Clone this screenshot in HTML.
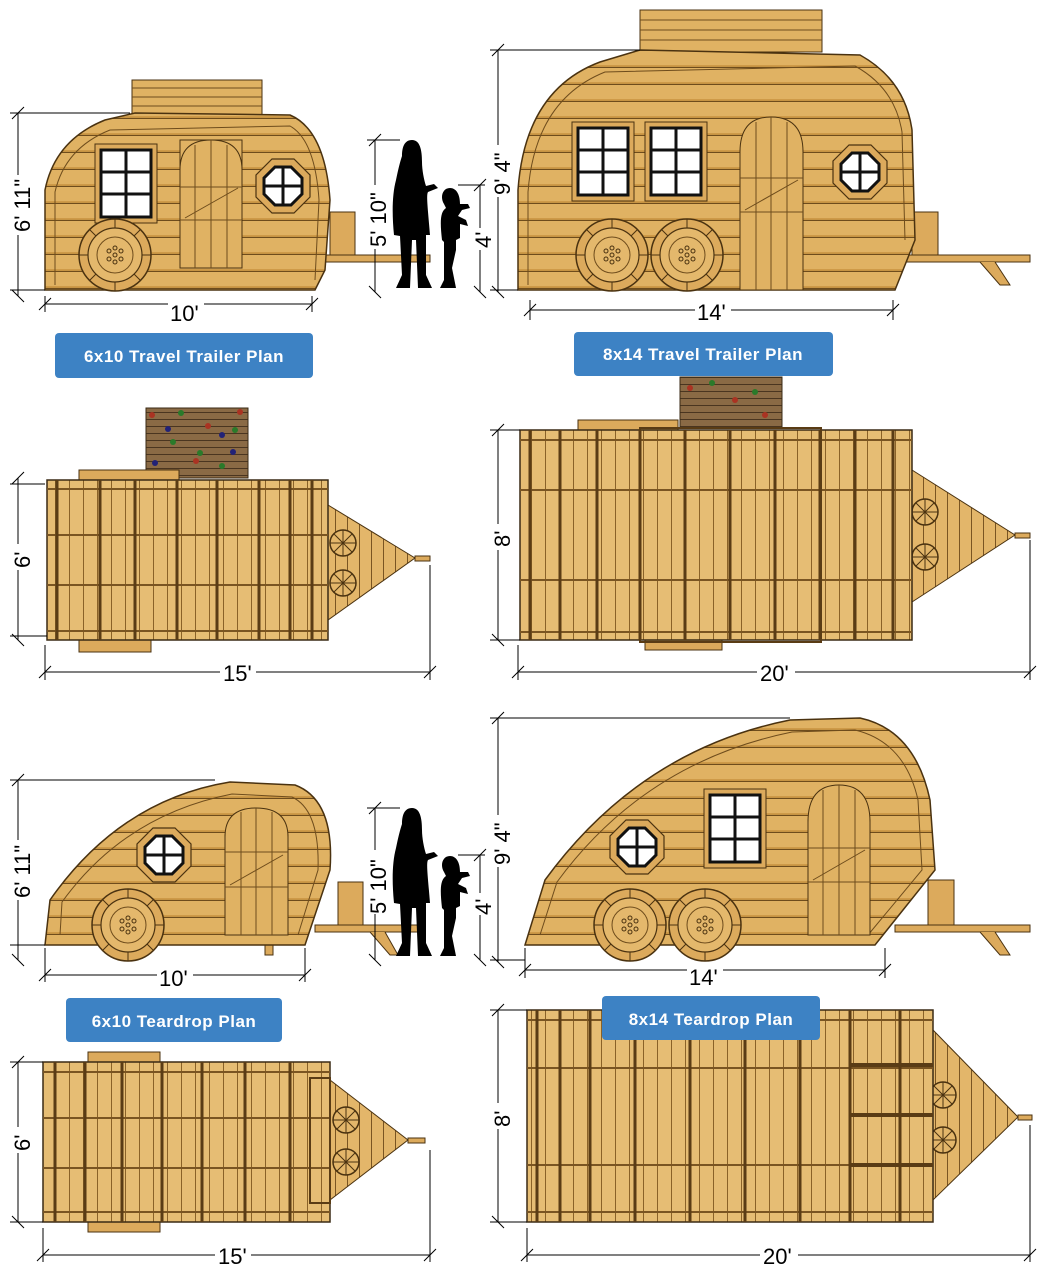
<!DOCTYPE html>
<html><head><meta charset="utf-8"><style>
html,body{margin:0;padding:0;background:#fff;}
svg{display:block;}
text{font-family:"Liberation Sans",sans-serif;}
.dim{stroke:#000;stroke-width:1;fill:none;}
.dt{font-size:22px;fill:#000;}
.lb{font-size:17px;font-weight:bold;fill:#fff;letter-spacing:0.5px;}
</style></head><body>
<svg width="1050" height="1278" viewBox="0 0 1050 1278" xmlns="http://www.w3.org/2000/svg">
<defs>
<pattern id="siding" width="40" height="17" patternUnits="userSpaceOnUse">
<rect width="40" height="17" fill="#e0b263"/>
<line x1="0" y1="16.5" x2="40" y2="16.5" stroke="#6e4c1c" stroke-width="1.2"/>
<line x1="0" y1="15" x2="40" y2="15" stroke="#c8923f" stroke-width="1.5"/>
</pattern>
<pattern id="boards" width="14" height="60" patternUnits="userSpaceOnUse">
<rect width="14" height="60" fill="#e6bd74"/>
<line x1="13.5" y1="0" x2="13.5" y2="60" stroke="#8a6228" stroke-width="1"/>
</pattern>
<pattern id="wall" width="20" height="7" patternUnits="userSpaceOnUse">
<rect width="20" height="7" fill="#8a6a45"/>
<line x1="0" y1="6.5" x2="20" y2="6.5" stroke="#4a3520" stroke-width="1"/>
</pattern>
<pattern id="tri" width="12" height="10" patternUnits="userSpaceOnUse">
<rect width="12" height="10" fill="#e3b66a"/>
<line x1="11.5" y1="0" x2="11.5" y2="10" stroke="#7a5522" stroke-width="1"/>
</pattern>
<g id="wheel">
<circle r="36" fill="#dcaa5c" stroke="#4a3210" stroke-width="1.5"/>
<circle r="27" fill="#e4b86c" stroke="#4a3210" stroke-width="1.2"/>
<circle r="18" fill="none" stroke="#6e4c1c"/>
<g fill="none" stroke="#4a3210"><circle cx="0" cy="-7" r="2"/><circle cx="6" cy="-4" r="2"/><circle cx="6" cy="4" r="2"/><circle cx="0" cy="7" r="2"/><circle cx="-6" cy="4" r="2"/><circle cx="-6" cy="-4" r="2"/><circle r="2"/></g>
<path d="M-36,0H-27M27,0H36M0,-36V-27M0,27V36M-25,-25L-19,-19M25,-25L19,-19M-25,25L-19,19M25,25L19,19" stroke="#4a3210"/>
</g>
<g id="pw">
<circle r="13" fill="#e3b66a" stroke="#4a3210" stroke-width="1.5"/>
<path d="M-13,0H13M0,-13V13M-9,-9L9,9M9,-9L-9,9" stroke="#4a3210"/>
</g>
<g id="oct">
<polygon points="-11,-27 11,-27 27,-11 27,11 11,27 -11,27 -27,11 -27,-11" fill="#dcaa5c" stroke="#4a3210" stroke-width="1.2"/>
<polygon points="-8,-19 8,-19 19,-8 19,8 8,19 -8,19 -19,8 -19,-8" fill="#fff" stroke="#111" stroke-width="3"/>
<path d="M0,-19V19M-19,0H19" stroke="#111" stroke-width="3"/>
</g>
<g id="win">
<rect x="-6" y="-6" width="62" height="79" fill="#dcaa5c" stroke="#4a3210"/>
<rect x="0" y="0" width="50" height="67" fill="#fff" stroke="#111" stroke-width="3"/>
<path d="M25,0V67M0,22H50M0,44H50" stroke="#111" stroke-width="3"/>
</g>
<g id="people">
<path d="M22,0 C14,0 12,8 12,16 C10,22 8,30 6,40 C2,55 2,75 4,95 L10,96 L12,135 L6,148 L20,148 L22,100 L26,100 L28,148 L42,148 L36,135 L36,95 L40,95 C38,70 36,55 38,52 L48,48 L44,44 L36,46 C34,40 32,30 32,22 C32,10 30,0 22,0 Z" fill="#000"/>
<path d="M60,48 C52,48 50,58 54,64 L56,68 C50,72 50,82 52,100 L54,102 L54,140 L50,148 L66,148 L62,128 L66,110 L66,100 L70,98 L70,84 L78,86 L76,80 L68,76 L72,70 L80,68 L78,64 L70,64 C70,54 66,48 60,48 Z" fill="#000"/>
</g>
</defs>

<!-- ===== TOP LEFT travel trailer ===== -->
<rect x="132" y="80" width="130" height="35" fill="#e0b263" stroke="#4a3210"/>
<path d="M132,88H262M132,97H262M132,106H262" stroke="#6e4c1c"/>
<path d="M315,255H430V262H315Z" fill="#dcaa5c" stroke="#4a3210"/>
<rect x="330" y="212" width="25" height="43" fill="#dcaa5c" stroke="#4a3210"/>
<rect x="145" y="278" width="100" height="12" fill="#dcaa5c" stroke="#4a3210"/>
<path d="M45,290 L45,190 Q55,140 105,120 L135,113 L290,115 Q325,130 330,200 L325,270 L315,290 Z" fill="url(#siding)" stroke="#4a3210" stroke-width="1.5"/>
<path d="M55,285 L55,192 Q65,148 110,130 L290,126 Q315,140 319,200 L315,280" fill="none" stroke="#6e4c1c"/>
<use href="#win" x="101" y="150"/>
<rect x="180" y="140" width="62" height="128" rx="0" fill="#e0b263" stroke="#4a3210"/>
<path d="M180,170 Q180,140 211,140 Q242,140 242,170" fill="#e0b263" stroke="#4a3210"/>
<path d="M195,145V268M211,140V268M227,145V268M180,187H242M180,220H242M185,218L238,188" stroke="#6e4c1c"/>
<use href="#oct" x="283" y="186"/>
<use href="#wheel" x="115" y="255"/>

<!-- people 1 -->
<use href="#people" x="390" y="140"/>

<!-- dims top left -->
<g class="dim">
<path d="M18,113V296M10,113H130M12,119L24,107M12,290L24,302M10,290H45"/>
<path d="M45,304H312M45,296V312M312,296V312M39,310L51,298M306,310L318,298"/>
<path d="M375,140V292M367,140H400M369,146L381,134M369,286L381,298"/>
<path d="M480,185V292M458,185H485M474,191L486,179M474,286L486,298"/>
</g>
<rect x="8" y="175" width="22" height="60" fill="#fff"/>
<text class="dt" transform="translate(30,232) rotate(-90)">6' 11"</text>
<rect x="168" y="296" width="36" height="20" fill="#fff"/>
<text class="dt" x="170" y="321">10'</text>
<rect x="364" y="185" width="22" height="64" fill="#fff"/>
<text class="dt" transform="translate(386,247) rotate(-90)">5' 10"</text>
<rect x="470" y="228" width="22" height="22" fill="#fff"/>
<text class="dt" transform="translate(491,248) rotate(-90)">4'</text>

<rect x="55" y="333" width="258" height="45" rx="4" fill="#3d82c4"/>
<text class="lb" x="184" y="362" text-anchor="middle">6x10 Travel Trailer Plan</text>

<!-- ===== TOP RIGHT travel trailer ===== -->
<rect x="640" y="10" width="182" height="42" fill="#e0b263" stroke="#4a3210"/>
<path d="M640,20H822M640,30H822M640,40H822" stroke="#6e4c1c"/>
<path d="M895,255H1030V262H895Z" fill="#dcaa5c" stroke="#4a3210"/>
<path d="M980,262L1000,285H1010L995,262" fill="#dcaa5c" stroke="#4a3210"/>
<rect x="912" y="212" width="26" height="43" fill="#dcaa5c" stroke="#4a3210"/>
<rect x="710" y="278" width="75" height="12" fill="#dcaa5c" stroke="#4a3210"/>
<path d="M518,290 L518,190 Q525,90 600,62 L640,50 L860,55 Q905,80 912,130 L915,240 L895,290 Z" fill="url(#siding)" stroke="#4a3210" stroke-width="1.5"/>
<path d="M528,285 L528,192 Q535,100 605,72 L855,66 Q895,88 902,132 L905,240" fill="none" stroke="#6e4c1c"/>
<use href="#win" x="578" y="128"/>
<use href="#win" x="651" y="128"/>
<rect x="740" y="150" width="63" height="140" fill="#e0b263" stroke="#4a3210"/>
<path d="M740,152 Q740,117 771,117 Q803,117 803,152" fill="#e0b263" stroke="#4a3210"/>
<path d="M756,122V290M771,117V290M787,122V290M740,178H803M740,212H803M745,210L798,180" stroke="#6e4c1c"/>
<use href="#oct" x="860" y="172"/>
<use href="#wheel" x="612" y="255"/>
<use href="#wheel" x="687" y="255"/>
<g class="dim">
<path d="M498,50V292M490,50H640M492,56L504,44M492,286L504,298M490,290H518"/>
<path d="M530,310H893M530,300V320M893,300V320M524,316L536,304M887,316L899,304"/>
</g>
<rect x="488" y="145" width="22" height="52" fill="#fff"/>
<text class="dt" transform="translate(510,195) rotate(-90)">9' 4"</text>
<rect x="695" y="302" width="36" height="20" fill="#fff"/>
<text class="dt" x="697" y="320">14'</text>
<rect x="574" y="332" width="259" height="44" rx="4" fill="#3d82c4"/>
<text class="lb" x="703" y="360" text-anchor="middle">8x14 Travel Trailer Plan</text>

<!-- ===== PLAN 1 ===== -->
<rect x="146" y="408" width="102" height="70" fill="url(#wall)" stroke="#3a2a15"/>
<g fill="#2a7a2a"><circle cx="181" cy="413" r="3"/><circle cx="235" cy="430" r="3"/><circle cx="173" cy="442" r="3"/><circle cx="200" cy="453" r="3"/><circle cx="222" cy="466" r="3"/></g>
<g fill="#a32"><circle cx="152" cy="415" r="3"/><circle cx="208" cy="426" r="3"/><circle cx="240" cy="412" r="3"/><circle cx="196" cy="461" r="3"/></g>
<g fill="#227"><circle cx="168" cy="429" r="3"/><circle cx="222" cy="435" r="3"/><circle cx="233" cy="452" r="3"/><circle cx="155" cy="463" r="3"/></g>
<rect x="79" y="470" width="100" height="10" fill="#dcaa5c" stroke="#4a3210"/>
<rect x="79" y="640" width="72" height="12" fill="#dcaa5c" stroke="#4a3210"/>
<path d="M328,505L415,558L328,620Z" fill="url(#tri)" stroke="#4a3210"/>
<rect x="415" y="556" width="15" height="5" fill="#dcaa5c" stroke="#4a3210"/>
<use href="#pw" x="343" y="543"/><use href="#pw" x="343" y="583"/>
<rect x="47" y="480" width="281" height="160" fill="url(#boards)" stroke="#3a2a15" stroke-width="1.5"/>
<path d="M47,489H328M47,631H328M47,535H328M47,585H328" stroke="#7a5522" stroke-width="2"/>
<path d="M57,480V640M100,480V640M135,480V640M177,480V640M217,480V640M259,480V640M290,480V640M312,480V640" stroke="#5a3c15" stroke-width="3"/>
<g class="dim">
<path d="M18,478V640M12,484L24,472M12,634L24,646M10,484H45M10,636H47"/>
<path d="M45,672H430M45,645V680M430,565V680M39,678L51,666M424,678L436,666"/>
</g>
<rect x="8" y="544" width="22" height="26" fill="#fff"/>
<text class="dt" transform="translate(30,568) rotate(-90)">6'</text>
<rect x="220" y="662" width="36" height="22" fill="#fff"/>
<text class="dt" x="223" y="681">15'</text>

<!-- ===== PLAN 2 ===== -->
<rect x="680" y="377" width="102" height="51" fill="url(#wall)" stroke="#3a2a15"/>
<g fill="#a32"><circle cx="690" cy="388" r="3"/><circle cx="735" cy="400" r="3"/><circle cx="765" cy="415" r="3"/></g>
<g fill="#2a7a2a"><circle cx="712" cy="383" r="3"/><circle cx="755" cy="392" r="3"/></g>
<rect x="578" y="420" width="100" height="10" fill="#dcaa5c" stroke="#4a3210"/>
<rect x="645" y="640" width="77" height="10" fill="#dcaa5c" stroke="#4a3210"/>
<path d="M912,470L1015,535L912,602Z" fill="url(#tri)" stroke="#4a3210"/>
<rect x="1015" y="533" width="15" height="5" fill="#dcaa5c" stroke="#4a3210"/>
<use href="#pw" x="925" y="512"/><use href="#pw" x="925" y="557"/>
<rect x="520" y="430" width="392" height="210" fill="url(#boards)" stroke="#3a2a15" stroke-width="1.5"/>
<path d="M520,440H912M520,632H912M520,490H912M520,580H912" stroke="#7a5522" stroke-width="2"/>
<path d="M530,430V640M560,430V640M597,430V640M640,430V640M685,430V640M730,430V640M775,430V640M820,430V640M855,430V640M893,430V640" stroke="#5a3c15" stroke-width="3"/>
<rect x="640" y="428" width="181" height="214" fill="none" stroke="#5a3c15" stroke-width="2"/>
<g class="dim">
<path d="M498,430V640M492,436L504,424M492,634L504,646M490,430H520M490,640H520"/>
<path d="M518,672H1030M518,645V680M1030,540V680M512,678L524,666M1024,678L1036,666"/>
</g>
<rect x="488" y="524" width="22" height="26" fill="#fff"/>
<text class="dt" transform="translate(510,547) rotate(-90)">8'</text>
<rect x="757" y="662" width="38" height="22" fill="#fff"/>
<text class="dt" x="760" y="681">20'</text>

<!-- ===== BOTTOM LEFT teardrop ===== -->
<path d="M315,925H425V932H315Z" fill="#dcaa5c" stroke="#4a3210"/>
<path d="M370,932L390,955H398L385,932" fill="#dcaa5c" stroke="#4a3210"/>
<rect x="338" y="882" width="25" height="43" fill="#dcaa5c" stroke="#4a3210"/>
<rect x="265" y="940" width="8" height="15" fill="#dcaa5c" stroke="#4a3210"/>
<path d="M45,945 L50,900 Q120,800 230,782 L295,785 Q335,800 330,870 L305,945 Z" fill="url(#siding)" stroke="#4a3210" stroke-width="1.5"/>
<path d="M60,935 L62,902 Q125,815 232,794 L292,797 Q320,810 318,870 L298,935" fill="none" stroke="#6e4c1c"/>
<use href="#oct" x="164" y="855"/>
<rect x="225" y="835" width="63" height="100" fill="#e0b263" stroke="#4a3210"/>
<path d="M225,837 Q225,808 256,808 Q288,808 288,837" fill="#e0b263" stroke="#4a3210"/>
<path d="M241,812V935M256,808V935M272,812V935M225,852H288M225,887H288M230,885L283,855" stroke="#6e4c1c"/>
<use href="#wheel" x="128" y="925"/>
<use href="#people" x="390" y="808"/>
<g class="dim">
<path d="M18,780V960M10,780H215M12,786L24,774M12,954L24,966M10,945H45"/>
<path d="M45,975H305M45,948V982M305,948V982M39,981L51,969M299,981L311,969"/>
<path d="M375,808V960M367,808H400M369,814L381,802M369,954L381,966"/>
<path d="M480,855V960M458,855H485M474,861L486,849M474,954L486,966"/>
</g>
<rect x="8" y="840" width="22" height="60" fill="#fff"/>
<text class="dt" transform="translate(30,898) rotate(-90)">6' 11"</text>
<rect x="157" y="965" width="36" height="20" fill="#fff"/>
<text class="dt" x="159" y="986">10'</text>
<rect x="364" y="850" width="22" height="64" fill="#fff"/>
<text class="dt" transform="translate(386,914) rotate(-90)">5' 10"</text>
<rect x="470" y="893" width="22" height="22" fill="#fff"/>
<text class="dt" transform="translate(491,915) rotate(-90)">4'</text>
<rect x="66" y="998" width="216" height="44" rx="4" fill="#3d82c4"/>
<text class="lb" x="174" y="1027" text-anchor="middle">6x10 Teardrop Plan</text>

<!-- ===== BOTTOM RIGHT teardrop ===== -->
<path d="M895,925H1030V932H895Z" fill="#dcaa5c" stroke="#4a3210"/>
<path d="M980,932L1000,955H1010L995,932" fill="#dcaa5c" stroke="#4a3210"/>
<rect x="928" y="880" width="26" height="45" fill="#dcaa5c" stroke="#4a3210"/>
<path d="M525,945 L545,880 Q640,750 790,720 L860,718 Q915,730 930,800 L935,870 L875,945 Z" fill="url(#siding)" stroke="#4a3210" stroke-width="1.5"/>
<path d="M540,935 L557,882 Q645,762 792,732 L855,730 Q905,742 918,800 L922,870 L868,935" fill="none" stroke="#6e4c1c"/>
<use href="#win" x="710" y="795"/>
<use href="#oct" x="637" y="847"/>
<rect x="808" y="820" width="62" height="115" fill="#e0b263" stroke="#4a3210"/>
<path d="M808,822 Q808,785 839,785 Q870,785 870,822" fill="#e0b263" stroke="#4a3210"/>
<path d="M823,790V935M839,785V935M855,790V935M808,848H870M808,882H870M813,880L865,850" stroke="#6e4c1c"/>
<use href="#wheel" x="630" y="925"/>
<use href="#wheel" x="705" y="925"/>
<g class="dim">
<path d="M498,718V962M490,718H790M492,724L504,712M492,956L504,968M490,960H525"/>
<path d="M525,970H885M525,948V978M885,948V978M519,976L531,964M879,976L891,964"/>
</g>
<rect x="488" y="815" width="22" height="52" fill="#fff"/>
<text class="dt" transform="translate(510,865) rotate(-90)">9' 4"</text>
<rect x="687" y="962" width="36" height="20" fill="#fff"/>
<text class="dt" x="689" y="985">14'</text>

<!-- ===== PLAN 3 ===== -->
<rect x="88" y="1052" width="72" height="10" fill="#dcaa5c" stroke="#4a3210"/>
<rect x="88" y="1222" width="72" height="10" fill="#dcaa5c" stroke="#4a3210"/>
<path d="M330,1080L408,1140L330,1200Z" fill="url(#tri)" stroke="#4a3210"/>
<rect x="408" y="1138" width="17" height="5" fill="#dcaa5c" stroke="#4a3210"/>
<use href="#pw" x="346" y="1120"/><use href="#pw" x="346" y="1162"/>
<rect x="43" y="1062" width="287" height="160" fill="url(#boards)" stroke="#3a2a15" stroke-width="1.5"/>
<path d="M43,1072H330M43,1212H330M43,1118H330M43,1168H330" stroke="#7a5522" stroke-width="2"/>
<path d="M55,1062V1222M85,1062V1222M122,1062V1222M162,1062V1222M202,1062V1222M245,1062V1222M290,1062V1222" stroke="#5a3c15" stroke-width="3"/>
<rect x="310" y="1078" width="20" height="125" fill="none" stroke="#5a3c15" stroke-width="2"/>
<g class="dim">
<path d="M18,1062V1222M12,1068L24,1056M12,1216L24,1228M10,1062H43M10,1222H43"/>
<path d="M43,1255H430M43,1228V1262M430,1150V1262M37,1261L49,1249M424,1261L436,1249"/>
</g>
<rect x="8" y="1127" width="22" height="26" fill="#fff"/>
<text class="dt" transform="translate(30,1151) rotate(-90)">6'</text>
<rect x="215" y="1245" width="36" height="22" fill="#fff"/>
<text class="dt" x="218" y="1264">15'</text>

<!-- ===== PLAN 4 ===== -->
<path d="M933,1030L1018,1117L933,1200Z" fill="url(#tri)" stroke="#4a3210"/>
<rect x="1018" y="1115" width="14" height="5" fill="#dcaa5c" stroke="#4a3210"/>
<use href="#pw" x="943" y="1095"/><use href="#pw" x="943" y="1140"/>
<rect x="527" y="1010" width="406" height="212" fill="url(#boards)" stroke="#3a2a15" stroke-width="1.5"/>
<path d="M527,1020H933M527,1212H933M527,1068H933M527,1165H933" stroke="#7a5522" stroke-width="2"/>
<path d="M537,1010V1222M560,1010V1222M590,1010V1222M635,1010V1222M690,1010V1222M745,1010V1222M800,1010V1222M850,1010V1222M900,1010V1222" stroke="#5a3c15" stroke-width="3"/>
<path d="M850,1065H933M850,1115H933M850,1165H933" stroke="#5a3c15" stroke-width="4"/>
<g class="dim">
<path d="M498,1010V1222M492,1016L504,1004M492,1216L504,1228M490,1010H527M490,1222H527"/>
<path d="M527,1255H1030M527,1228V1262M1030,1125V1262M521,1261L533,1249M1024,1261L1036,1249"/>
</g>
<rect x="488" y="1103" width="22" height="26" fill="#fff"/>
<text class="dt" transform="translate(510,1127) rotate(-90)">8'</text>
<rect x="760" y="1245" width="38" height="22" fill="#fff"/>
<text class="dt" x="763" y="1264">20'</text>
<rect x="602" y="996" width="218" height="44" rx="4" fill="#3d82c4"/>
<text class="lb" x="711" y="1025" text-anchor="middle">8x14 Teardrop Plan</text>
</svg>
</body></html>
